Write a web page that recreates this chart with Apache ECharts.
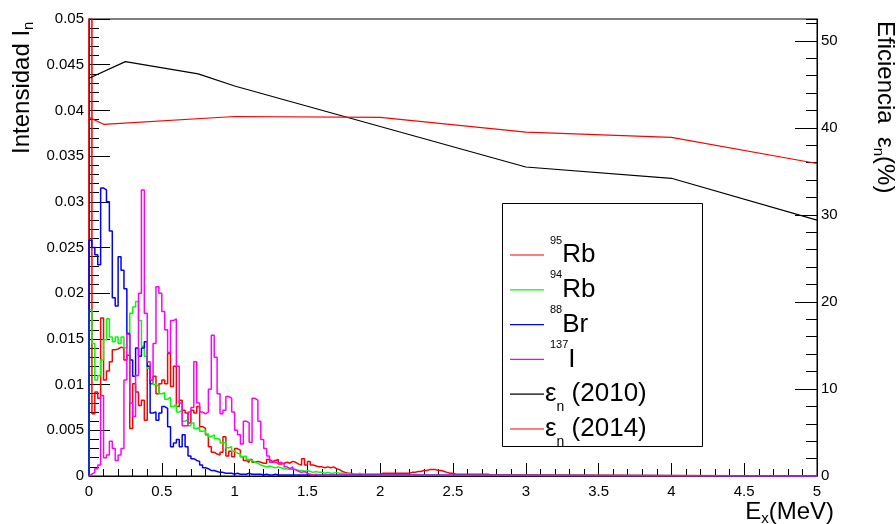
<!DOCTYPE html>
<html>
<head>
<meta charset="utf-8">
<script src="https://cdn.jsdelivr.net/npm/echarts@6/dist/echarts.min.js"></script>
<style>
  html, body { margin: 0; padding: 0; background: #fff; }
  #chart { width: 896px; height: 524px; }
</style>
</head>
<body>
<div id="chart"></div>
<script>
// Neutron energy spectra (intensity per 20 keV bin) and detector efficiency curves.
const binWidth = 0.02; // MeV

// Bin contents starting at Ex = 0; bins not listed are empty.
const rb95 = [
  0.058, 0.0068, 0.0092, 0.0085, 0.0173, 0.0105, 0.0115, 0.0125, 0.0138, 0.0139,
  0.0141, 0.0140, 0.0127, 0.0132, 0.0052, 0.0101, 0.0092, 0.0077, 0.0083, 0.0061,
  0.0120, 0.0101, 0.0109, 0.0090, 0.0101, 0.0105, 0.0101, 0.0134, 0.0098, 0.0120,
  0.0076, 0.0083, 0.0072, 0.0069, 0.0058, 0.0072, 0.0069, 0.0076, 0.0054, 0.0052,
  0.0045, 0.0032, 0.0026, 0.0024, 0.0023, 0.0026, 0.0043, 0.0022, 0.0027, 0.0021,
  0.0030, 0.0028, 0.0021, 0.0017, 0.0015, 0.0018, 0.0015, 0.0016, 0.0015, 0.0014,
  0.0014, 0.0018, 0.0016, 0.0017, 0.0018, 0.0013, 0.0014, 0.0015, 0.0014, 0.0016,
  0.0015, 0.0013, 0.0012, 0.0019, 0.0012, 0.0016, 0.0012, 0.0011, 0.0010, 0.0010,
  0.0009, 0.0010, 0.0009, 0.0010, 0.0008, 0.0007, 0.0005, 0.0004, 0.0003, 0.0003,
  0.0002, 0.0002, 0.0002, 0.0002, 0.0002, 0.0002, 0.0002, 0.0002, 0.0002, 0.0002,
  0.0003, 0.0003, 0.0003, 0.0003, 0.0003, 0.0003, 0.0003, 0.0003, 0.0003, 0.0003,
  0.0004, 0.0004, 0.0005, 0.0005, 0.0006, 0.0006, 0.0007, 0.0007, 0.0007, 0.0006,
  0.0006, 0.0005, 0.0004, 0.0003, 0.0003, 0.0002, 0.0002, 0.0002, 0.0002, 0.0002,
  0.0002, 0.0002, 0.0002, 0.0002, 0.0002, 0.0002, 0.0002, 0.0001, 0.0001, 0.0001,
  0.0001, 0.0001, 0.0001, 0.0001, 0.0001, 0.0001, 0.0001, 0.0001, 0.0001, 0.0001
];

const rb94 = [
  0.0182, 0.0145, 0.0105, 0.0110, 0.0127, 0.0149, 0.0172, 0.0152, 0.0147, 0.0152,
  0.0145, 0.0152, 0.0140, 0.0156, 0.0178, 0.0185, 0.0191, 0.0170, 0.0142, 0.0131,
  0.0118, 0.0105, 0.0100, 0.0098, 0.0090, 0.0091, 0.0084, 0.0086, 0.0076, 0.0078,
  0.0070, 0.0072, 0.0060, 0.0062, 0.0055, 0.0058, 0.0052, 0.0053, 0.0049, 0.0050,
  0.0046, 0.0043, 0.0045, 0.0041, 0.0040, 0.0036, 0.0037, 0.0031, 0.0032, 0.0027,
  0.0025, 0.0024, 0.0021, 0.0022, 0.0018, 0.0017, 0.0015, 0.0014, 0.0012, 0.0011,
  0.0010, 0.0011, 0.0010, 0.0009, 0.0010, 0.0009, 0.0008, 0.0008, 0.0007, 0.0008,
  0.0007, 0.0006, 0.0006, 0.0005, 0.0006, 0.0005, 0.0004, 0.0005, 0.0004, 0.0004,
  0.0003, 0.0004, 0.0003, 0.0003, 0.0004, 0.0003, 0.0003, 0.0002, 0.0003, 0.0002,
  0.0002, 0.0002, 0.0003, 0.0002, 0.0002, 0.0001, 0.0002, 0.0001, 0.0001, 0.0001
];

const br88 = [
  0.0258, 0.0250, 0.0242, 0.0231, 0.0315, 0.0313, 0.0300, 0.0268, 0.0195, 0.0186,
  0.0240, 0.0225, 0.0205, 0.0156, 0.0127, 0.0109, 0.0140, 0.0131, 0.0140, 0.0147,
  0.0120, 0.0069, 0.0070, 0.0061, 0.0069, 0.0076, 0.0074, 0.0054, 0.0032, 0.0036,
  0.0040, 0.0032, 0.0045, 0.0032, 0.0022, 0.0019, 0.0017, 0.0016, 0.0012, 0.0009,
  0.0008, 0.0006, 0.0006, 0.0005, 0.0004, 0.0004, 0.0003, 0.0003, 0.0003, 0.0002,
  0.0003, 0.0002, 0.0002, 0.0002, 0.0003, 0.0002, 0.0002, 0.0002, 0.0002, 0.0001,
  0.0002, 0.0001, 0.0001, 0.0002, 0.0001, 0.0001, 0.0001, 0.0001, 0.0001, 0.0001
];

const i137 = [
  0.0002, 0.0004, 0.0008, 0.0012, 0.0088, 0.0020, 0.0023, 0.0038, 0.0030, 0.0017,
  0.0023, 0.0030, 0.0105, 0.0155, 0.0080, 0.0065, 0.0110, 0.0200, 0.0313, 0.0178,
  0.0125, 0.0105, 0.0145, 0.0207, 0.0200, 0.0180, 0.0160, 0.0135, 0.0170, 0.0172,
  0.0120, 0.0080, 0.0055, 0.0055, 0.0070, 0.0075, 0.0125, 0.0080, 0.0070, 0.0068,
  0.0070, 0.0095, 0.0154, 0.0130, 0.0090, 0.0068, 0.0072, 0.0087, 0.0085, 0.0070,
  0.0050, 0.0045, 0.0035, 0.0060, 0.0058, 0.0037, 0.0085, 0.0083, 0.0060, 0.0040,
  0.0030, 0.0022, 0.0015, 0.0015, 0.0014, 0.0015, 0.0013, 0.0010, 0.0008, 0.0010,
  0.0007, 0.0005, 0.0004, 0.0005, 0.0003, 0.0002, 0.0001, 0.0002, 0.0001
];

// Efficiency curves (%), energies in MeV
const eff2010E = [0, 0.25, 0.75, 1, 3, 4, 5];
const eff2010 = [45.7, 47.6, 46.2, 44.8, 35.5, 34.2, 29.4];
const eff2014E = [0, 0.1, 1, 2, 3, 4, 5];
const eff2014 = [41.2, 40.4, 41.3, 41.2, 39.5, 38.9, 35.9];

const xMax = 5;
const FONT = '"Liberation Sans", Arial, Helvetica, sans-serif';

const seriesNames = ['95Rb', '94Rb', '88Br', '137I', 'eps2010', 'eps2014'];
const seriesColors = ['#ff0000', '#00ff00', '#0000ff', '#ff00ff', '#000000', '#ff0000'];
const legendLabels = [
  '{sup|95}{big|Rb}',
  '{sup|94}{big|Rb}',
  '{sup|88}{big|Br}',
  '{sup|137}{big|I}',
  '{big|ε}{sub|n}{big| (2010)}',
  '{big|ε}{sub|n}{big| (2014)}'
];

// Histogram outline: baseline at 0, one point per bin low edge, back to baseline.
function histPoints(vals) {
  const pts = [[0, 0]];
  vals.forEach((v, i) => pts.push([+(i * binWidth).toFixed(4), v]));
  pts.push([+(vals.length * binWidth).toFixed(4), 0]);
  pts.push([xMax, 0]);
  return pts;
}
function pairs(xs, ys) { return xs.map((x, i) => [x, ys[i]]); }

function histSeries(k, vals) {
  const color = seriesColors[k];
  return {
    name: seriesNames[k], type: 'line', step: 'end', data: histPoints(vals),
    symbol: 'none', silent: true, clip: true,
    lineStyle: { color, width: 1.5 }, itemStyle: { color }
  };
}
function effSeries(k, xs, ys) {
  const color = seriesColors[k];
  return {
    name: seriesNames[k], type: 'line', yAxisIndex: 1, data: pairs(xs, ys),
    symbol: 'none', silent: true,
    lineStyle: { color, width: 1.2 }, itemStyle: { color }
  };
}

// Legend box drawn as graphics: frame, sample lines, rich labels
const legendBox = { x: 502.5, y: 203.5, w: 200, h: 243 };
const legendRow0 = 255, legendRowStep = 34.8;
const legendRich = {
  sup: { fontSize: 11, lineHeight: 12, verticalAlign: 'top', padding: [0, 0, 0, 5], fontFamily: FONT, fill: '#000' },
  big: { fontSize: 26, lineHeight: 40, fontFamily: FONT, fill: '#000' },
  sub: { fontSize: 14, lineHeight: 25, verticalAlign: 'bottom', fontFamily: FONT, fill: '#000' }
};
const legendGraphics = [{
  type: 'rect', z: 5,
  shape: { x: legendBox.x, y: legendBox.y, width: legendBox.w, height: legendBox.h },
  style: { fill: '#fff', stroke: '#000', lineWidth: 1 }
}];
seriesNames.forEach((n, k) => {
  const cy = legendRow0 + k * legendRowStep;
  legendGraphics.push({
    type: 'line', z: 6,
    shape: { x1: 510, y1: cy, x2: 544, y2: cy },
    style: { stroke: seriesColors[k], lineWidth: 1.2 }
  });
  legendGraphics.push({
    type: 'text', z: 6, x: 545, y: cy,
    style: { text: legendLabels[k], rich: legendRich, align: 'left', verticalAlign: 'middle' }
  });
});

const chart = echarts.init(document.getElementById('chart'), null, { renderer: 'canvas' });

const axisTxt = { color: '#000', fontFamily: FONT, fontSize: 15 };
const titleRich = {
  t: { fontSize: 24, lineHeight: 28, fontFamily: FONT, fill: '#000' },
  s: { fontSize: 15, lineHeight: 12, verticalAlign: 'bottom', fontFamily: FONT, fill: '#000' }
};

chart.setOption({
  animation: false,
  backgroundColor: '#fff',
  grid: { left: 89, right: 79, top: 19, bottom: 48, show: true, borderColor: '#000', borderWidth: 1, backgroundColor: 'transparent' },
  xAxis: {
    type: 'value', min: 0, max: xMax, interval: 0.5,
    axisLine: { show: true, lineStyle: { color: '#000', width: 1 } },
    axisTick: { show: true, inside: true, length: 13, lineStyle: { color: '#000' } },
    minorTick: { show: true, splitNumber: 5, length: 7, lineStyle: { color: '#000' } },
    splitLine: { show: false },
    axisLabel: Object.assign({ margin: 8, formatter: v => String(+v.toFixed(2)) }, axisTxt)
  },
  yAxis: [
    {
      type: 'value', position: 'left', min: 0, max: 0.05, interval: 0.005,
      axisLine: { show: true, lineStyle: { color: '#000', width: 1 } },
      axisTick: { show: true, inside: true, length: 21, lineStyle: { color: '#000' } },
      minorTick: { show: true, splitNumber: 5, length: 10, lineStyle: { color: '#000' } },
      splitLine: { show: false },
      axisLabel: Object.assign({ margin: 5, formatter: v => String(+v.toFixed(4)) }, axisTxt)
    },
    {
      type: 'value', position: 'right', min: 0, max: 52.5, interval: 10,
      axisLine: { show: true, lineStyle: { color: '#000', width: 1 } },
      axisTick: { show: true, inside: true, length: 22, lineStyle: { color: '#000' } },
      splitLine: { show: false },
      axisLabel: Object.assign({ margin: 4, showMaxLabel: false, formatter: v => String(v) }, axisTxt)
    },
    {
      type: 'value', position: 'right', min: 0, max: 52.5, interval: 2,
      axisLine: { show: false },
      axisTick: { show: true, inside: true, length: 11, lineStyle: { color: '#000' } },
      splitLine: { show: false },
      axisLabel: { show: false }
    }
  ],
  graphic: legendGraphics.concat([
    {
      type: 'text', x: 8, y: 154, rotation: Math.PI / 2,
      style: { text: '{t|Intensidad I}{s|n}', align: 'left', verticalAlign: 'top', rich: titleRich }
    },
    {
      type: 'text', x: 899, y: 21, rotation: -Math.PI / 2,
      style: { text: '{t|Eficiencia  ε}{s|n}{t|(%)}', align: 'left', verticalAlign: 'top', rich: titleRich }
    },
    {
      type: 'text', x: 834, y: 526,
      style: { text: '{t|E}{s|x}{t|(MeV)}', align: 'right', verticalAlign: 'bottom', rich: titleRich }
    }
  ]),
  series: [
    histSeries(0, rb95),
    histSeries(1, rb94),
    histSeries(2, br88),
    histSeries(3, i137),
    effSeries(4, eff2010E, eff2010),
    effSeries(5, eff2014E, eff2014)
  ]
});
</script>
</body>
</html>
